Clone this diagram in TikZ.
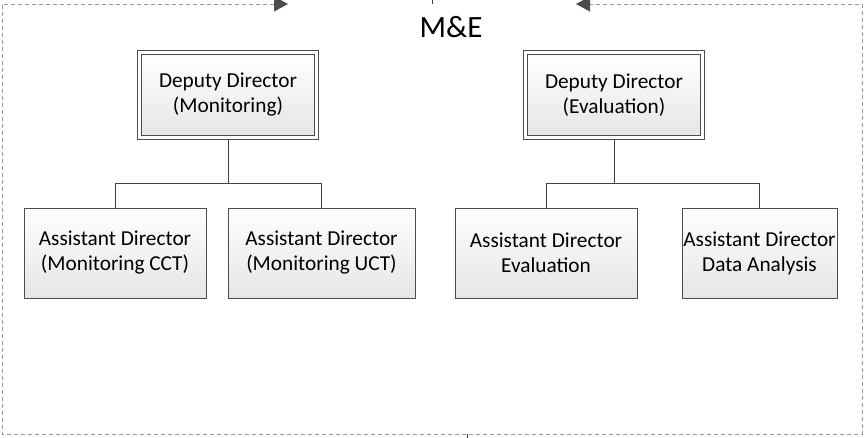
\documentclass[tikz,border=0pt]{standalone}
\usepackage{fontspec}
\setmainfont{Carlito}
\usetikzlibrary{arrows.meta}

\tikzset{
  frame/.style={draw=black!40, line width=0.8pt, dash pattern=on 4pt off 3pt,
    >={Triangle[length=14pt,width=15pt,color=black!70,fill=black!70]}},
  conn/.style={draw=black!75, line width=0.8pt},
  post/.style={draw=black!70, line width=0.8pt, top color=white, bottom color=black!10,
    minimum height=90pt, inner sep=0pt, align=center, font=\fontsize{21.3}{25}\selectfont},
  deputy/.style={post, double=white, double distance=3.2pt, minimum width=177.2pt,
    minimum height=85.2pt, outer sep=2.4pt}
}

\begin{document}
\begin{tikzpicture}[x=1pt,y=-1pt]
  \useasboundingbox (0,0) rectangle (864,438);
  \draw[frame,<->] (288,4) -- (2,4) -- (2,434) -- (862,434) -- (862,4) -- (576,4);
  \coordinate (metop) at (432,4);
  \coordinate (mebot) at (467,434);
  \draw[conn] (metop) -- ++(0,-4);
  \draw[conn] (mebot) -- ++(0,4);
  \node (me) at (451,27) {\fontsize{31}{36}\selectfont M\&E};

  \node[deputy] (dmon) at (228,95) {Deputy Director\\(Monitoring)};
  \node[deputy] (deva) at (614,95) {Deputy Director\\(Evaluation)};

  \node[post,minimum width=182pt] (amcct) at (115,253) {Assistant Director\\(Monitoring CCT)};
  \node[post,minimum width=187pt] (amuct) at (321.5,253) {Assistant Director\\(Monitoring UCT)};
  \node[post,minimum width=182pt] (aeval) at (546,253) {Assistant Director\\Evaluation};
  \node[post,minimum width=155pt] (adata) at (759.5,253) {Assistant Director\\Data Analysis};

  \draw[conn] (dmon.south) -- (dmon.south |- 0,183) -| (amcct.north);
  \draw[conn] (dmon.south |- 0,183) -| (amuct.north);
  \draw[conn] (deva.south) -- (deva.south |- 0,183) -| (aeval.north);
  \draw[conn] (deva.south |- 0,183) -| (adata.north);
\end{tikzpicture}
\end{document}
